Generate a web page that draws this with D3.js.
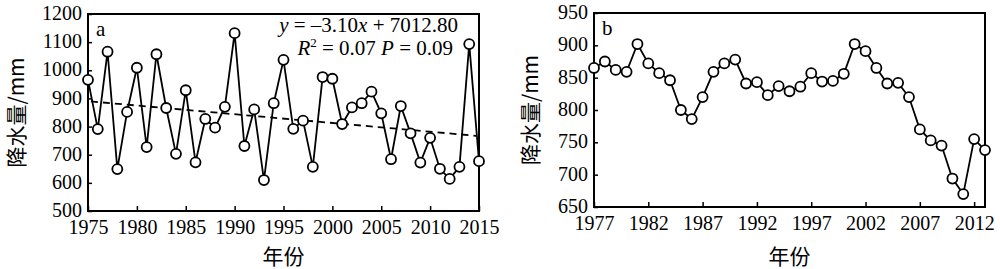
<!DOCTYPE html>
<html><head><meta charset="utf-8">
<script src="https://cdn.jsdelivr.net/npm/d3@7"></script>
<style>body{margin:0;background:#fff;}svg{display:block;}</style>
</head><body>
<svg id="c" width="1000" height="269"></svg>
<script>
const yearsA = d3.range(1975, 2016);
const valuesA = [966,791,1066,649,852,1009,727,1057,866,703,929,673,827,796,870,1132,731,861,610,883,1037,792,821,657,976,970,809,868,883,924,847,684,873,776,672,760,650,614,657,1093,677];
const yearsB = d3.range(1977, 2014);
const valuesB = [865,875,862,859,902,872,857,846,800,786,820,859,872,878,841,843,823,837,829,836,857,844,845,856,902,891,865,841,842,820,770,753,745,694,670,755,738];
const ticksA_x = [1975,1980,1985,1990,1995,2000,2005,2010,2015];
const ticksA_y = [500,600,700,800,900,1000,1100,1200];
const ticksB_x = [1977,1982,1987,1992,1997,2002,2007,2012];
const ticksB_y = [650,700,750,800,850,900,950];
const trendSlope = -3.10, trendIntercept = 7012.80;
const yLabel = "降水量/mm", xLabel = "年份";

const svg = d3.select("#c");
const serif = "'Liberation Serif', serif";
const cjk = "'Noto Sans CJK SC', sans-serif";
const FS = 20;

function panel(cfg){
  const x = d3.scaleLinear().domain(cfg.xd).range([cfg.l, cfg.r]);
  const y = d3.scaleLinear().domain(cfg.yd).range([cfg.b, cfg.t]);
  const g = svg.append("g");
  g.append("rect").attr("x",cfg.l).attr("y",cfg.t).attr("width",cfg.r-cfg.l).attr("height",cfg.b-cfg.t)
    .attr("fill","none").attr("stroke","#000").attr("stroke-width",2);
  const xa = g.append("g").attr("transform",`translate(0,${cfg.b})`)
    .call(d3.axisBottom(x).tickValues(cfg.xt).tickFormat(d3.format("d")).tickSizeInner(-5).tickSizeOuter(0).tickPadding(9));
  xa.select(".domain").remove();
  xa.attr("font-family",null).attr("font-size",null);
  xa.selectAll("line").attr("stroke","#000").attr("stroke-width",1.5);
  xa.selectAll("text").style("font-family",serif).style("font-size",FS+"px").attr("fill","#000");
  const ya = g.append("g").attr("transform",`translate(${cfg.l},0)`)
    .call(d3.axisLeft(y).tickValues(cfg.yt).tickFormat(d3.format("d")).tickSizeInner(-4).tickSizeOuter(0).tickPadding(6));
  ya.select(".domain").remove();
  ya.attr("font-family",null).attr("font-size",null);
  ya.selectAll("line").attr("stroke","#000").attr("stroke-width",1.5);
  ya.selectAll("text").style("font-family",serif).style("font-size",FS+"px").attr("fill","#000").attr("dy","0.28em");
  g.append("text").attr("transform",`translate(${cfg.yl},${(cfg.t+cfg.b)/2}) rotate(-90)`)
    .attr("text-anchor","middle").attr("dy","0.35em").attr("fill","#000").style("font-family",cjk).style("font-size","21px").text(yLabel);
  g.append("text").attr("x",(cfg.l+cfg.r)/2).attr("y",264).attr("text-anchor","middle").attr("fill","#000")
    .style("font-family",cjk).style("font-size","21px").text(xLabel);
  g.append("text").attr("x",cfg.l+8).attr("y",cfg.t+22).attr("fill","#000").style("font-family",serif).style("font-size","21px").text(cfg.tag);
  return {g,x,y};
}

// Panel a
const A = panel({xd:[1975,2015], yd:[500,1200], l:88, r:479, t:14, b:211, xt:ticksA_x, yt:ticksA_y, yl:17, tag:"a"});
A.g.append("line")
  .attr("x1",A.x(1975.3)).attr("y1",A.y(trendSlope*1975.3+trendIntercept))
  .attr("x2",A.x(2014.7)).attr("y2",A.y(trendSlope*2014.7+trendIntercept))
  .attr("stroke","#000").attr("stroke-width",1.8).attr("stroke-dasharray","7,5");
const dA = yearsA.map((yr,i)=>[yr,valuesA[i]]);
A.g.append("path").datum(dA).attr("d",d3.line().x(d=>A.x(d[0])).y(d=>A.y(d[1])))
  .attr("fill","none").attr("stroke","#000").attr("stroke-width",1.8);
A.g.selectAll("circle").data(dA).enter().append("circle")
  .attr("cx",d=>A.x(d[0])).attr("cy",d=>A.y(d[1])).attr("r",5)
  .attr("fill","#fff").attr("stroke","#000").attr("stroke-width",1.8);
const eq = A.g.append("text").attr("x",458).attr("y",32).attr("text-anchor","end").style("font-family",serif).style("font-size","21px");
eq.append("tspan").attr("font-style","italic").text("y");
eq.append("tspan").text(" = –3.10");
eq.append("tspan").attr("font-style","italic").text("x");
eq.append("tspan").text(" + 7012.80");
const r2 = A.g.append("text").attr("x",453).attr("y",55).attr("text-anchor","end").style("font-family",serif).style("font-size","21px");
r2.append("tspan").attr("font-style","italic").text("R");
r2.append("tspan").style("font-size","13px").attr("dy",-8).text("2");
r2.append("tspan").attr("dy",8).text(" = 0.07 ");
r2.append("tspan").attr("font-style","italic").text("P");
r2.append("tspan").text(" = 0.09");

// Panel b
const B = panel({xd:[1977,2013], yd:[650,950], l:594, r:985, t:13, b:207, xt:ticksB_x, yt:ticksB_y, yl:531, tag:"b"});
const dB = yearsB.map((yr,i)=>[yr,valuesB[i]]);
B.g.append("path").datum(dB).attr("d",d3.line().x(d=>B.x(d[0])).y(d=>B.y(d[1])))
  .attr("fill","none").attr("stroke","#000").attr("stroke-width",1.8);
B.g.selectAll("circle").data(dB).enter().append("circle")
  .attr("cx",d=>B.x(d[0])).attr("cy",d=>B.y(d[1])).attr("r",5)
  .attr("fill","#fff").attr("stroke","#000").attr("stroke-width",1.8);
</script>
</body></html>
